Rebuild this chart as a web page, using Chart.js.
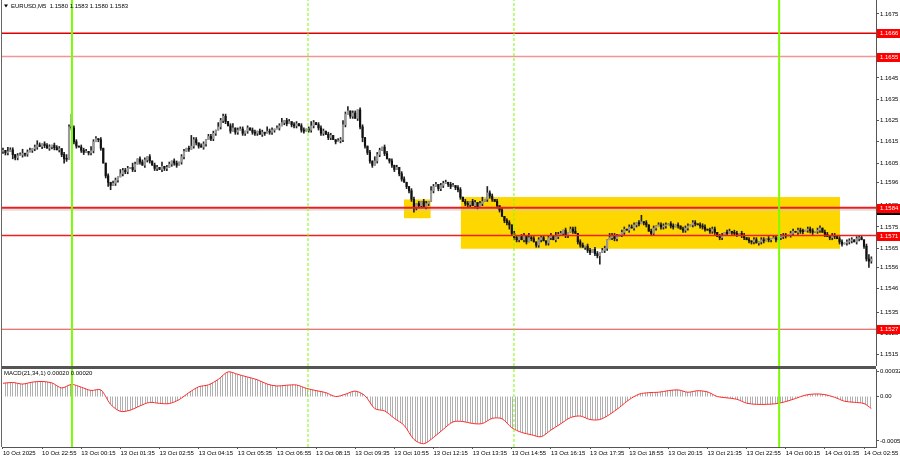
<!DOCTYPE html>
<html>
<head>
<meta charset="utf-8">
<title>EURUSD M5</title>
<script src="https://cdn.jsdelivr.net/npm/chart.js@4.4.1/dist/chart.umd.min.js"></script>
<style>
  html, body { margin: 0; padding: 0; background: #fff; }
  #wrap { position: relative; width: 900px; height: 460px; overflow: hidden; }
  #wrap canvas { position: absolute; left: 0; }
</style>
</head>
<body>
<div id="wrap">
  <canvas id="priceChart" width="900" height="366" style="top:0"></canvas>
  <canvas id="macdChart" width="900" height="94" style="top:366px"></canvas>
</div>
<script>
const symbolTitle = 'EURUSD,M5  1.1580 1.1583 1.1580 1.1583'
const macdTitle = 'MACD(21,34,1) 0.00020 0.00020'

const timeLabels = [
  '10 Oct 2025', '10 Oct 22:55', '13 Oct 00:15', '13 Oct 01:35', '13 Oct 02:55', '13 Oct 04:15',
  '13 Oct 05:35', '13 Oct 06:55', '13 Oct 08:15', '13 Oct 09:35', '13 Oct 10:55', '13 Oct 12:15',
  '13 Oct 13:35', '13 Oct 14:55', '13 Oct 16:15', '13 Oct 17:35', '13 Oct 18:55', '13 Oct 20:15',
  '13 Oct 21:35', '13 Oct 22:55', '14 Oct 00:15', '14 Oct 01:35', '14 Oct 02:55',
]
const priceTicks = [
  1.1675, 1.1665, 1.1655, 1.1645, 1.1635, 1.1625, 1.1615, 1.1605, 1.1596,
  1.1585, 1.1575, 1.1565, 1.1556, 1.1546, 1.1535, 1.1525, 1.1515,
]
const macdTicks = [0.00032, 0, -0.00057]

// M5 closes, in 0.00001 above 1.15000
const closes = [
  1110, 1098, 1104, 1112, 1090, 1075, 1085, 1088, 1095, 1092, 1102, 1110, 1118,
  1125, 1135, 1128, 1140, 1132, 1120, 1126, 1134, 1122, 1112, 1118,
  1090, 1070, 1068, 1220, 1215, 1150, 1130,
  1125, 1110, 1100, 1105, 1098, 1108, 1150, 1165, 1160,
  1120, 1050, 990, 960, 945, 955, 970, 985,
  1000, 1015, 1010, 1025, 1030, 1020,
  1045, 1070, 1055, 1040, 1065, 1080, 1060,
  1040, 1025, 1030, 1020, 1035, 1025, 1030,
  1045, 1060, 1050, 1040, 1055, 1080, 1105, 1120, 1115,
  1130, 1160, 1145, 1130, 1125,
  1140, 1160, 1175, 1165, 1190, 1205, 1220, 1250, 1270, 1245, 1225,
  1200, 1215, 1195, 1205, 1210, 1190, 1200, 1215, 1205, 1195,
  1190, 1200, 1185, 1195, 1190, 1200, 1195, 1205, 1210, 1215,
  1225, 1240, 1250, 1235, 1245, 1230, 1225, 1235, 1225,
  1205, 1200, 1210, 1205, 1225, 1240, 1230, 1215,
  1190, 1200, 1185, 1170, 1180, 1160, 1150, 1155, 1160, 1230,
  1280, 1295, 1270, 1285, 1260, 1300,
  1220, 1170, 1130, 1100, 1060, 1040, 1060, 1090, 1110, 1125, 1095, 1070,
  1060, 1040, 1020, 1030, 1000, 975, 960, 940, 920, 880, 840,
  860, 850, 870, 845, 860, 870, 920,
  940, 950, 930, 945, 955, 960, 950, 940, 945, 935, 925,
  890, 870, 860, 855, 870, 850, 865, 845, 860, 870, 880,
  910, 895, 880, 870, 850, 830, 800, 780, 770, 760,
  720, 700, 690, 705, 690, 710, 680, 700, 695,
  680, 665, 690, 700, 685, 675, 700, 710, 690, 705, 715,
  720, 735, 710, 725, 740, 730, 720, 680, 665, 655, 660,
  640, 630, 645, 625, 615, 630, 640, 650,
  690, 700, 710, 695, 705, 715, 725, 740, 735, 750, 745,
  760, 770, 765, 775, 770, 760, 730, 720,
  745, 755, 760, 750, 755, 760, 765, 755, 750, 760, 755, 740, 735, 745,
  755, 760, 770, 765, 760, 755, 750, 740, 735, 730, 740, 725,
  705, 700, 710, 725, 720, 730, 725, 720, 715, 720, 710,
  700, 690, 685, 680, 690, 675, 680, 690, 685, 695, 690,
  695, 700, 690, 700, 705, 710, 708, 712,
  720, 730, 725, 735, 730, 728, 735, 740, 732, 725, 730, 735, 745, 725,
  715, 705, 700, 710, 705, 695, 680, 670,
  675, 680, 685, 690, 680, 695, 700, 690, 660, 600, 590, 600,
]
const firstOpen = 1105
// wick lengths in pips, one digit per bar
const wickUp = (
  '1021101120 1101210111 0111012161 1011102110 1001011021 1102101110 1011020110 1101101511 0110111021 1101201110 ' +
  '1011011021 1011201101 1011012101 1101100112 1201101100 1021101101 0101100110 1011021101 1101101101 1011012031 ' +
  '1010101101 1011021101 1101102110 1011201101 1011011021 1101101110 1301011011 1101101011 1011011101 1101101101 ' +
  '1011010110 1101011011 1011011101 1101101101 1011011101 110121'
).replace(/ /g, '')
const wickDn = (
  '1110211011 1011101101 1101121011 1011011101 1012201101 1101101011 1011011101 1101101011 1011011101 1101011011 ' +
  '1011101101 1101011011 1011011101 1101101011 1011011211 1101101011 1011011121 1101101011 1011011101 1101101011 ' +
  '1011011211 1101101011 1011101101 1101011011 1011401101 1101101011 1011011101 1101101011 1011011101 1101101011 ' +
  '1011011101 1101101011 1011011101 1101101011 1011011101 101131'
).replace(/ /g, '')

const levels = [1.1666, 1.1655, 1.1584, 1.1571, 1.1527]
const bidPrice = 1.1583
// bar positions of day breaks and session opens
const dayBreaks = [28.2, 317.3]
const sessionOpens = [124.7, 208.9]
const zones = [
  { from: 163.9, to: 174.9, top: 1.15877, bottom: 1.15791 },
  { from: 187.1, to: 342.2, top: 1.15888, bottom: 1.15648 },
]
// MACD(21,34,1) on every 4th bar, in 0.00001
const macd = [
  17, 18, 16, 18.5, 19.3, 17.5, 11, 15.5, 12, 7.8,
  8.5, -10, -19, -17.5, -12, -7.5, -8.8, -9, -4, 5,
  12.5, 15, 22, 31.6, 28.4, 25, 21.5, 16, 13.5, 14.5,
  14.8, 10.5, 7.6, 5, 0, 3, 7, 1, -15.5, -18.5,
  -28, -37, -55, -60.5, -52.5, -42, -32.5, -32, -34.6, -34.6,
  -28, -28.5, -40, -46, -49, -51.5, -43, -35, -27, -25,
  -29.5, -29.5, -23, -14, -4, 3, 5, 5.5, 7.5, 8.5,
  5.5, 7.5, 6, 0, -1.7, -3.5, -8.5, -10, -10, -9.2,
  -6.5, -2.5, 1.8, 3.3, 2.5, -1, -6, -7.4, -9, -15.5,
]

const BASE = 1.15, UNIT = 0.00001
const X_MIN = -0.4, X_MAX = 356.9
const Y_MIN = 1.150974, Y_MAX = 1.168157
const M_MIN = -0.000647, M_MAX = 0.000353
const FONT = '6px "Liberation Sans"'

Chart.defaults.font.family = 'Liberation Sans'
Chart.defaults.font.size = 6
Chart.defaults.color = '#000'

const price = (n) => +(BASE + n * UNIT).toFixed(5)
const opens = closes.map((c, i) => (i === 0 ? firstOpen : closes[i - 1]))
const highs = closes.map((c, i) => Math.max(opens[i], c) + Number(wickUp[i]) * 10)
const lows = closes.map((c, i) => Math.min(opens[i], c) - Number(wickDn[i]) * 10)

const levelStyle = [
  ['#dd0000', 1.5], ['#f29595', 1.5], ['#ee1c1c', 2], ['#f01e1e', 1.5], ['#e04646', 1],
]

const hLine = (y, color, width, order) => ({
  type: 'line',
  data: [{ x: X_MIN, y }, { x: X_MAX, y }],
  borderColor: color,
  borderWidth: width,
  pointRadius: 0,
  order,
})
const vLine = (x, lo, hi, dashed) => ({
  type: 'line',
  data: [{ x, y: lo }, { x, y: hi }],
  borderColor: '#7CFC00',
  borderWidth: dashed ? 1 : 2,
  borderDash: dashed ? [3, 2] : [],
  pointRadius: 0,
  order: -2,
})
const sessionLines = (lo, hi) => [
  ...dayBreaks.map((b) => vLine(b, lo, hi, false)),
  ...sessionOpens.map((b) => vLine(b, lo, hi, true)),
]

const rightAxis = (min, max, ticks, fmt) => ({
  position: 'right',
  min,
  max,
  afterBuildTicks: (ax) => { ax.ticks = ticks.map((value) => ({ value })) },
  afterFit: (ax) => { ax.width = 24; ax.paddingTop = 0; ax.paddingBottom = 0 },
  grid: { drawOnChartArea: false, tickLength: 3, color: '#555' },
  border: { color: '#555' },
  ticks: { autoSkip: false, padding: 1, callback: fmt },
})

const baseOptions = {
  responsive: false,
  animation: false,
  events: [],
  plugins: { legend: { display: false }, tooltip: { enabled: false } },
}

const priceExtras = {
  id: 'priceExtras',
  afterDraw(chart) {
    const { ctx, scales } = chart
    ctx.save()
    ctx.fillStyle = '#666'
    ctx.fillRect(1, 0, 1, chart.height)

    ctx.fillStyle = '#000'
    ctx.beginPath()
    ctx.moveTo(4, 4.5); ctx.lineTo(8, 4.5); ctx.lineTo(6, 7.5)
    ctx.fill()
    ctx.font = FONT
    ctx.textBaseline = 'middle'
    ctx.fillText(symbolTitle, 11, 6.5)

    const tag = (value, bg) => {
      const y = Math.round(scales.y.getPixelForValue(value))
      ctx.fillStyle = bg
      ctx.fillRect(877, y - 4, 23, 9)
      ctx.fillStyle = '#fff'
      ctx.fillText(value.toFixed(4), 880, y + 0.5)
    }
    tag(bidPrice, '#000')
    levels.forEach((lv) => tag(lv, '#ff0000'))
    ctx.restore()
  },
}

new Chart(document.getElementById('priceChart'), {
  type: 'bar',
  data: {
    datasets: [
      ...zones.map((z) => ({
        type: 'line',
        data: [{ x: z.from, y: z.top }, { x: z.to, y: z.top }],
        fill: { value: z.bottom },
        backgroundColor: '#FFD700',
        borderColor: '#FFD700',
        borderWidth: 1,
        pointRadius: 0,
        order: 10,
      })),
      hLine(bidPrice, '#c8c8c8', 1, 6),
      {
        data: closes.map((c, i) => ({ x: i, y: [price(lows[i]), price(highs[i])] })),
        backgroundColor: '#222',
        barThickness: 1,
        grouped: false,
        order: 1,
      },
      {
        data: closes.map((c, i) => ({ x: i, y: [price(opens[i]), price(c)] })),
        backgroundColor: closes.map((c, i) => (c >= opens[i] ? '#9a9a9a' : '#111')),
        barThickness: 1.5,
        minBarLength: 1,
        grouped: false,
        order: 0,
      },
      ...levels.map((lv, i) => hLine(lv, levelStyle[i][0], levelStyle[i][1], -1)),
      ...sessionLines(Y_MIN, Y_MAX),
    ],
  },
  options: {
    ...baseOptions,
    layout: { padding: { left: 2, top: 0, right: 0, bottom: 0 } },
    scales: {
      x: { type: 'linear', min: X_MIN, max: X_MAX, offset: false, display: false },
      y: rightAxis(Y_MIN, Y_MAX, priceTicks, (v) => v.toFixed(4)),
    },
  },
  plugins: [priceExtras],
})

const macdCanvas = document.getElementById('macdChart')
const stripe = document.createElement('canvas')
stripe.width = 5
stripe.height = 1
const sg = stripe.getContext('2d')
sg.fillStyle = '#b0b0b0'
sg.fillRect(0, 0, 1, 1)
sg.fillRect(2, 0, 1, 1)
const stripes = macdCanvas.getContext('2d').createPattern(stripe, 'repeat')

const macdExtras = {
  id: 'macdExtras',
  afterDraw(chart) {
    const { ctx, chartArea: a } = chart
    ctx.save()
    ctx.fillStyle = '#555'
    ctx.fillRect(1, 0, a.right - 1, 3)
    ctx.fillStyle = '#666'
    ctx.fillRect(1, 0, 1, a.bottom)
    ctx.fillStyle = '#000'
    ctx.font = FONT
    ctx.textBaseline = 'middle'
    ctx.fillText(macdTitle, 4, 7)
    ctx.restore()
  },
}

new Chart(macdCanvas, {
  type: 'line',
  data: {
    datasets: [
      {
        data: macd.map((v, k) => ({ x: Math.min(k * 4, closes.length - 1), y: v * UNIT })),
        borderColor: '#ff2a2a',
        borderWidth: 1,
        backgroundColor: stripes,
        fill: 'origin',
        tension: 0.3,
        pointRadius: 0,
        order: 1,
      },
      ...sessionLines(M_MIN, M_MAX),
    ],
  },
  options: {
    ...baseOptions,
    layout: { padding: { left: 2, top: 3, right: 0, bottom: 0 } },
    scales: {
      x: {
        type: 'linear',
        min: X_MIN,
        max: X_MAX,
        offset: false,
        afterBuildTicks: (ax) => { ax.ticks = timeLabels.map((_, k) => ({ value: k * 16 })) },
        afterFit: (ax) => { ax.height = 13; ax.paddingLeft = 0; ax.paddingRight = 0 },
        grid: { drawOnChartArea: false, tickLength: 2, color: '#555' },
        border: { color: '#555' },
        ticks: {
          autoSkip: false,
          maxRotation: 0,
          minRotation: 0,
          align: 'start',
          padding: 1,
          callback: (v, i) => timeLabels[i],
        },
      },
      y: rightAxis(M_MIN, M_MAX, macdTicks, (v) => (v === 0 ? '0.00' : v.toFixed(5))),
    },
  },
  plugins: [macdExtras],
})
</script>
</body>
</html>
